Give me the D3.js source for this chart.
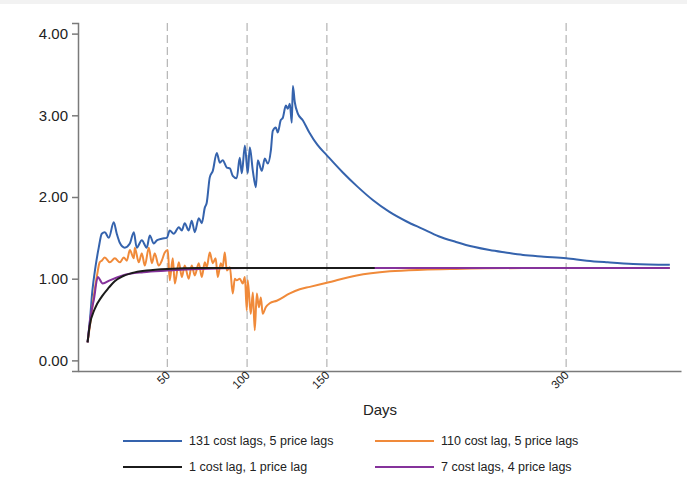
<!DOCTYPE html>
<html>
<head>
<meta charset="utf-8">
<script src="https://cdn.jsdelivr.net/npm/d3@7"></script>
<style>
  html, body { margin: 0; padding: 0; background: #fff; }
  svg { display: block; font-family: "Liberation Sans", Arial, sans-serif; }
</style>
</head>
<body>
<div id="chart"></div>
<script>
// Price response by lag specification, days on x axis

// --- data: [day, value] ---
const lags131 = [
  [0,0.22],[1.5,0.5],[3,0.85],[5,1.15],[7,1.38],[8.9,1.55],[10.8,1.57],[13.3,1.50],[16.4,1.69],
  [18.3,1.55],[20.2,1.44],[23.3,1.38],[26.5,1.43],[29,1.57],[30.8,1.38],[34,1.47],[37.1,1.38],
  [39,1.53],[41.5,1.43],[43.4,1.47],[46.5,1.49],[49.7,1.50],[51.5,1.59],[54,1.55],[57.2,1.63],
  [59.1,1.59],[60.9,1.68],[63.4,1.59],[65.3,1.71],[67.2,1.57],[69.7,1.74],[71.6,1.68],[73.5,1.87],
  [74.7,1.93],[76.6,2.24],[78.5,2.32],[81,2.54],[82.9,2.42],[84.7,2.45],[87.3,2.36],[89.2,2.35],
  [91,2.26],[93.5,2.23],[95.4,2.48],[96.7,2.29],[98.6,2.63],[100.4,2.29],[101.7,2.61],[103.6,2.32],
  [105.5,2.12],[106.7,2.45],[109.2,2.32],[111.1,2.47],[113,2.41],[114.9,2.57],[116.1,2.81],[118,2.85],
  [119.2,2.79],[121.1,2.94],[122.4,2.97],[124.3,3.12],[125.5,3.08],[126.8,3.14],[128,2.91],[128.7,3.36],
  [129.9,3.16],[131.8,3.02],[134.9,2.94],[139,2.79],[144,2.64],[150,2.51],[160,2.30],[169,2.13],
  [179,1.96],[189,1.82],[200,1.70],[210,1.61],[220,1.52],[231,1.45],[242,1.39],[252,1.35],
  [262,1.32],[273,1.29],[286,1.27],[300,1.25],[313,1.22],[326,1.20],[342,1.18],[365,1.17]
];
const lags110 = [
  [0,0.22],[2,0.5],[4,0.8],[6,1.05],[7.6,1.2],[8.9,1.22],[10.8,1.26],[13.9,1.20],[17.1,1.25],
  [20.2,1.20],[22.7,1.26],[24.6,1.22],[26.5,1.35],[29,1.25],[29.6,1.38],[32.1,1.20],[34,1.31],
  [35.9,1.16],[38.4,1.38],[40.3,1.19],[42.1,1.31],[44.6,1.16],[46.5,1.22],[48.4,1.32],[50.3,1.35],
  [51.5,0.98],[53.4,1.25],[54.7,0.94],[57.2,1.20],[59.1,1.02],[60.9,1.16],[63.4,1.00],[65.3,1.16],
  [67.2,1.04],[69.7,1.19],[71.6,1.02],[73.5,1.20],[74.7,1.14],[76.6,1.32],[78.5,1.19],[80.3,1.25],
  [81.6,1.02],[83.5,1.19],[84.7,1.14],[86,1.32],[87.3,1.10],[89.2,1.14],[91,0.82],[92.3,1.00],
  [93.5,0.98],[95.4,1.00],[97.3,0.94],[98.6,1.02],[99.8,0.61],[100.4,0.98],[102.3,0.57],[103.6,0.83],
  [104.8,0.37],[106.1,0.82],[107.4,0.65],[108.6,0.77],[109.8,0.57],[111.7,0.65],[114.2,0.70],
  [118.6,0.73],[126.8,0.82],[133,0.87],[139.3,0.90],[150,0.95],[168.7,1.04],[189.5,1.09],[210,1.11],
  [231,1.12],[273,1.13],[300,1.13],[365,1.13]
];
const lags1 = [
  [0,0.22],[1.3,0.42],[4.5,0.63],[8.9,0.78],[13.3,0.89],[17,0.97],[22,1.03],[28,1.07],[37,1.10],
  [50,1.12],[70,1.13],[180,1.13]
];
const lags7 = [
  [0,0.22],[2,0.55],[4,0.75],[6.4,1.02],[9.5,0.94],[13.9,0.98],[22,1.04],[35,1.08],[50,1.10],
  [70,1.12],[100,1.13],[365,1.13]
];

const seriesNames = ['131 cost lags, 5 price lags', '110 cost lag, 5 price lags',
                     '1 cost lag, 1 price lag', '7 cost lags, 4 price lags'];
const seriesColors = ['#3563ad', '#f08a3a', '#1b1b1b', '#85329b'];
const xTicks = [50, 100, 150, 300];
const yTicks = [0, 1, 2, 3, 4];

const w = 687, h = 482;
const svg = d3.select('#chart').append('svg').attr('width', w).attr('height', h);

// faint strip at the very top of the image
svg.append('rect').attr('x', 0).attr('y', 0).attr('width', w).attr('height', 4).attr('fill', '#f2f2f2');

const x = d3.scaleLinear().domain([-6, 372]).range([78, 681]);
const y = d3.scaleLinear().domain([-0.13, 4.13]).range([371, 23]);

// dashed reference lines
svg.append('g').selectAll('line')
  .data(xTicks).enter().append('line')
  .attr('x1', d => x(d)).attr('x2', d => x(d))
  .attr('y1', y.range()[1]).attr('y2', y.range()[0])
  .attr('stroke', '#b4b4b4').attr('stroke-width', 1.2).attr('stroke-dasharray', '8,4');

// series (purple drawn under black, as in the original)
const line = d3.line().x(d => x(d[0])).y(d => y(d[1])).curve(d3.curveMonotoneX);
const allSeries = [lags131, lags110, lags1, lags7];
const drawOrder = [0, 1, 3, 2];
svg.append('g').selectAll('path')
  .data(drawOrder).enter().append('path')
  .attr('d', i => line(allSeries[i]))
  .attr('fill', 'none')
  .attr('stroke', i => seriesColors[i])
  .attr('stroke-width', 2)
  .attr('stroke-linejoin', 'round');

// axes
const yAxis = svg.append('g').attr('transform', 'translate(78,0)')
  .call(d3.axisLeft(y).tickValues(yTicks).tickFormat(d3.format('.2f')).tickSize(6).tickPadding(4));
yAxis.selectAll('text').attr('font-size', 15).attr('fill', '#222')
  .attr('font-family', '"Liberation Sans", Arial, sans-serif');

const xAxis = svg.append('g').attr('transform', 'translate(0,371)')
  .call(d3.axisBottom(x).tickValues(xTicks).tickSize(0).tickFormat(d3.format('d')));
xAxis.selectAll('text')
  .attr('font-size', 11.5).attr('fill', '#222')
  .attr('font-family', '"Liberation Sans", Arial, sans-serif')
  .attr('text-anchor', 'end')
  .attr('dy', '0.35em')
  .attr('transform', 'translate(-2,0) rotate(-45)');

svg.selectAll('.domain, .tick line').attr('stroke', '#7a7a7a').attr('stroke-width', 1.5);

svg.append('text').attr('x', 380).attr('y', 415).attr('text-anchor', 'middle')
  .attr('font-size', 15).attr('fill', '#222').text('Days');

// legend
const legend = svg.append('g').selectAll('g')
  .data(seriesNames).enter().append('g')
  .attr('transform', (d, i) => `translate(${i % 2 ? 375 : 123},${i < 2 ? 441 : 467})`);
legend.append('line').attr('x1', 0).attr('x2', 59).attr('y1', 0).attr('y2', 0)
  .attr('stroke', (d, i) => seriesColors[i]).attr('stroke-width', 2);
legend.append('text').attr('x', 66).attr('y', 0).attr('dy', '0.35em')
  .attr('font-size', 12.5).attr('fill', '#222').text(d => d);
</script>
</body>
</html>
